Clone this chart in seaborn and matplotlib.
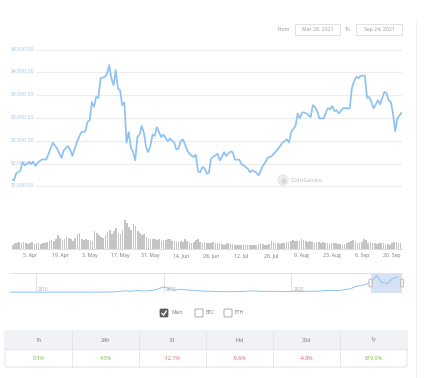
import numpy as np
import pandas as pd
import matplotlib
matplotlib.use("Agg")
import matplotlib.pyplot as plt
import matplotlib.patches as mpatches
import matplotlib.transforms as mtrans
import seaborn as sns

# ---------------- data ----------------
start_date = "2021-03-28"
end_date = "2021-09-24"

price_day = [0, 1, 2, 4, 5, 6, 8, 9, 10, 11, 12, 14, 16, 17, 19, 21, 23, 24, 26, 27,
             28, 30, 32, 34, 35, 36, 37, 38, 39, 40, 41, 43, 44, 45, 46, 47, 48, 49, 50, 51,
             52, 53, 54, 55, 56, 57, 58, 59, 60, 61, 62, 63, 64, 65, 66, 67, 68, 69, 70, 72,
             73, 75, 76, 77, 78, 79, 80, 81, 82, 84, 85, 86, 87, 88, 89, 90, 91, 92, 93, 95,
             96, 97, 98, 99, 101, 102, 103, 104, 105, 106, 108, 109, 110, 111, 113, 114, 116, 117, 118, 120,
             121, 123, 125, 127, 128, 129, 131, 132, 133, 134, 135, 136, 137, 138, 139, 140, 141, 142, 144, 145,
             146, 147, 148, 149, 150, 151, 153, 154, 156, 157, 158, 159, 160, 161, 162, 163, 164, 165, 166, 167,
             168, 169, 170, 171, 172, 173, 174, 175, 176, 177, 178, 180]
price_usd = [1650, 1630, 1775, 1850, 2030, 1960, 2030, 1995, 2045, 1945, 2020, 2090, 2090, 2215, 2460, 2325, 2120, 2290, 2385, 2305,
             2165, 2460, 2680, 2710, 2910, 2950, 3350, 3240, 3460, 3440, 3870, 3900, 3970, 4160, 3870, 3720, 4050, 3650, 3610, 3280,
             3340, 2460, 2690, 2360, 2250, 2070, 2580, 2635, 2825, 2680, 2360, 2250, 2385, 2635, 2605, 2800, 2690, 2580, 2635, 2490,
             2545, 2460, 2310, 2325, 2490, 2530, 2415, 2290, 2215, 2140, 2195, 1825, 1810, 1920, 1900, 1775, 1800, 2105, 2150, 2215,
             2070, 2140, 2250, 2165, 2265, 2250, 2090, 2080, 2090, 1995, 1920, 1885, 1810, 1850, 1800, 1740, 1960, 2020, 2120, 2165,
             2215, 2325, 2460, 2530, 2460, 2690, 2825, 3100, 2990, 3120, 3120, 3100, 3060, 3020, 3280, 3240, 3150, 2990, 2990, 3120,
             3220, 3190, 3260, 3150, 3170, 3100, 3220, 3210, 3210, 3650, 3800, 3900, 3870, 3925, 3925, 3930, 3440, 3460, 3350, 3210,
             3295, 3390, 3295, 3430, 3575, 3540, 3390, 3350, 3100, 2710, 2990, 3120]

# daily traded volume (billion USD), Mar 28 .. Sep 24
volume_bn = [10, 15, 16, 17, 15, 17, 16,
             12, 15, 17, 13, 14, 15, 13,
             14, 16, 18, 20, 22, 19, 24,
             35, 28, 22, 25, 30, 27, 24,
             20, 28, 38, 40, 25, 22, 24,
             23, 22, 20, 45, 40, 35, 30,
             28, 35, 42, 48, 38, 45, 52,
             40, 38, 48, 72, 65, 55, 48,
             62, 58, 45, 40, 35, 38, 30,
             26, 25, 24, 25, 22, 24, 20,
             22, 23, 26, 24, 21, 20, 18,
             17, 19, 18, 24, 20, 18, 16,
             17, 22, 24, 18, 16, 17, 15,
             16, 15, 18, 15, 14, 14, 12,
             11, 12, 14, 13, 12, 11, 10,
             9, 10, 12, 11, 10, 9, 10,
             9, 11, 13, 14, 12, 10, 11,
             13, 20, 18, 16, 14, 13, 15,
             16, 18, 17, 19, 22, 20, 21,
             20, 24, 22, 21, 18, 19, 17,
             16, 18, 17, 15, 17, 16, 14,
             13, 15, 16, 14, 13, 12, 11,
             12, 14, 18, 20, 22, 19, 16,
             15, 18, 25, 22, 16, 18, 15,
             14, 13, 15, 14, 16, 13, 12,
             11, 14, 18, 17, 15, 16]

tick_dates = ["2021-04-05", "2021-04-19", "2021-05-03", "2021-05-17", "2021-05-31", "2021-06-14",
              "2021-06-28", "2021-07-12", "2021-07-26", "2021-08-09", "2021-08-23", "2021-09-06",
              "2021-09-20"]
tick_labels = ["5. Apr", "19. Apr", "3. May", "17. May", "31. May", "14. Jun", "28. Jun",
               "12. Jul", "26. Jul", "9. Aug", "23. Aug", "6. Sep", "20. Sep"]
y_levels = [1500, 2000, 2500, 3000, 3500, 4000, 4500]

nav_month = ["2015-08", "2015-09", "2015-10", "2015-11", "2015-12",
             "2016-01", "2016-02", "2016-03", "2016-04", "2016-05", "2016-06", "2016-07", "2016-08",
             "2016-09", "2016-10", "2016-11", "2016-12",
             "2017-01", "2017-02", "2017-03", "2017-04", "2017-05", "2017-06", "2017-07", "2017-08",
             "2017-09", "2017-10", "2017-11", "2017-12",
             "2018-01", "2018-02", "2018-03", "2018-04", "2018-05", "2018-06", "2018-07", "2018-08",
             "2018-09", "2018-10", "2018-11", "2018-12",
             "2019-01", "2019-02", "2019-03", "2019-04", "2019-05", "2019-06", "2019-07", "2019-08",
             "2019-09", "2019-10", "2019-11", "2019-12",
             "2020-01", "2020-02", "2020-03", "2020-04", "2020-05", "2020-06", "2020-07", "2020-08",
             "2020-09", "2020-10", "2020-11", "2020-12",
             "2021-01", "2021-02", "2021-03", "2021-04", "2021-05", "2021-06", "2021-07", "2021-08",
             "2021-09"]
nav_price = [1, 1, 1, 1, 1,
             1, 6, 11, 8, 12, 14, 12, 11, 13, 11, 9, 8,
             10, 13, 50, 80, 230, 300, 200, 390, 300, 300, 450, 750,
             1250, 850, 400, 670, 580, 450, 430, 280, 230, 200, 110, 135,
             107, 136, 141, 160, 270, 290, 220, 170, 180, 180, 150, 130,
             180, 220, 135, 210, 230, 225, 345, 430, 360, 385, 610, 740,
             1300, 1600, 1800, 2500, 3900, 2300, 2000, 3200, 3600]
nav_years = ["2016", "2018", "2020"]

table_headers = ["1h", "24h", "7d", "14d", "30d", "1y"]
table_values = ["0.3%", "4.3%", "-12.1%", "-9.6%", "-4.8%", "819.0%"]

# ---------------- styling ----------------
sns.set_theme(style="white")
plt.rcParams["font.family"] = ["Open Sans", "DejaVu Sans"]

LINE = "#8ec2f3"
LABEL_BLUE = "#a3c3ec"
GRID = "#ececec"

W, H = 428, 378
fig = plt.figure(figsize=(W / 100, H / 100), dpi=100)
fig.patch.set_facecolor("white")


def rect(x0, y0, x1, y1):
    return [x0 / W, 1 - y1 / H, (x1 - x0) / W, (y1 - y0) / H]


t0 = pd.Timestamp(start_date)
t1 = pd.Timestamp(end_date)

# ---------------- price ----------------
ax = fig.add_axes(rect(11.7, 45, 401.7, 190))
df_price = pd.DataFrame({"date": [t0 + pd.Timedelta(days=d) for d in price_day],
                         "price": price_usd})
for v in y_levels:
    ax.axhline(v, xmin=0.062, xmax=1.0, color=GRID, lw=0.8, zorder=0)
sns.lineplot(data=df_price, x="date", y="price", ax=ax, color=LINE, lw=1.25, zorder=3)
ax.set_xlim(t0, t1)
ax.set_ylim(1420, 4600)
ax.axis("off")
blend = mtrans.blended_transform_factory(ax.transAxes, ax.transData)
for v in y_levels:
    ax.text(-0.002, v + 20, f"${v:,.2f}", transform=blend, ha="left", va="center",
            fontsize=3.7, color=LABEL_BLUE, zorder=2)

# ---------------- volume ----------------
axv = fig.add_axes(rect(11.7, 216, 401.7, 249))
vol_dates = pd.date_range(start_date, periods=len(volume_bn), freq="D")
axv.bar(vol_dates, volume_bn, width=0.75, color="#c4c4c4", linewidth=0)
axv.set_xlim(t0 - pd.Timedelta(hours=12), t1 + pd.Timedelta(hours=12))
axv.set_ylim(0, 82)
for s in ["top", "left", "right"]:
    axv.spines[s].set_visible(False)
axv.spines["bottom"].set_color("#d8d8d8")
axv.spines["bottom"].set_linewidth(0.6)
axv.set_yticks([])
axv.set_xticks([pd.Timestamp(d) for d in tick_dates])
axv.set_xticklabels(tick_labels)
axv.tick_params(axis="x", length=0, pad=3.2, labelsize=3.7, colors="#777777")
axv.set_xlabel("")
axv.set_ylabel("")

# ---------------- navigator ----------------
axn = fig.add_axes(rect(10, 273, 402, 293))
df_nav = pd.DataFrame({"date": pd.to_datetime(nav_month), "price": nav_price})
n0 = pd.Timestamp("2015-08-07")
sns.lineplot(data=df_nav, x="date", y="price", ax=axn, color=LINE, lw=0.7, zorder=3)
axn.set_xlim(n0, t1)
axn.set_ylim(-200, 4500)
axn.axvspan(t0, t1, color="#c9d7ef", alpha=0.75, lw=0, zorder=1)
for yr in nav_years:
    d = pd.Timestamp(f"{yr}-01-01")
    axn.axvline(d, color="#e3e3e3", lw=0.7, zorder=0)
    axn.text(d + pd.Timedelta(days=12), 700, yr, fontsize=3.3, color="#aaaaaa",
             ha="left", va="center")
axn.axis("off")

# ---------------- overlay (pixel coordinates) ----------------
ov = fig.add_axes([0, 0, 1, 1])
ov.set_xlim(0, W)
ov.set_ylim(H, 0)
ov.axis("off")

# navigator frame line and handles
ov.plot([10, 402], [273, 273], color="#e3e3e3", lw=0.7)
for hx in (370.5, 402.0):
    ov.add_patch(mpatches.FancyBboxPatch((hx - 1.6, 279), 3.2, 8,
                                         boxstyle="round,pad=0,rounding_size=0.8",
                                         fc="#f2f2f2", ec="#9a9a9a", lw=0.4, zorder=5))

# right separator
ov.plot([416, 416], [22, 378], color="#eeeeee", lw=0.8)

# date range inputs
ov.text(290, 29.5, "From", fontsize=3.7, color="#999999", ha="right", va="center")
ov.add_patch(mpatches.Rectangle((295, 24), 45, 11, fc="white", ec="#dddddd", lw=0.6))
ov.text(317.5, 29.5, "Mar 28, 2021", fontsize=3.7, color="#999999", ha="center", va="center")
ov.text(348, 29.5, "To", fontsize=3.7, color="#999999", ha="center", va="center")
ov.add_patch(mpatches.Rectangle((356, 24), 46, 11, fc="white", ec="#dddddd", lw=0.6))
ov.text(379, 29.5, "Sep 24, 2021", fontsize=3.7, color="#999999", ha="center", va="center")

# watermark
ov.add_patch(mpatches.Circle((283, 180), 5.2, fc="#eeeeee", ec="#e2e2e2", lw=0.5, zorder=1))
ov.add_patch(mpatches.Circle((284, 181), 2.6, fc="#d6d6d6", ec="none", zorder=1))
ov.text(291, 180.5, "CoinGecko", fontsize=4.6, color="#b5b5b5", ha="left", va="center")

# legend checkboxes
ov.add_patch(mpatches.FancyBboxPatch((160, 309), 8, 8, boxstyle="round,pad=0,rounding_size=1",
                                     fc="#606060", ec="#505050", lw=0.5))
ov.plot([161.8, 163.6, 166.4], [313.2, 315.2, 310.8], color="white", lw=0.9)
ov.text(171.5, 313, "Main", fontsize=3.6, color="#777777", ha="left", va="center")
for bx, lab in ((195, "BTC"), (224, "ETH")):
    ov.add_patch(mpatches.FancyBboxPatch((bx, 309), 8, 8, boxstyle="round,pad=0,rounding_size=1",
                                         fc="white", ec="#8a8a8a", lw=0.5))
    ov.text(bx + 10.5, 313, lab, fontsize=3.6, color="#777777", ha="left", va="center")

# performance table
tx0, tx1, ty0, ty1, tmid = 5, 407, 331, 367, 349
ov.add_patch(mpatches.FancyBboxPatch((tx0, ty0), tx1 - tx0, ty1 - ty0,
                                     boxstyle="round,pad=0,rounding_size=2",
                                     fc="white", ec="#e2e4e8", lw=0.7, zorder=1))
ov.add_patch(mpatches.Rectangle((tx0 + 0.5, ty0 + 0.5), tx1 - tx0 - 1, tmid - ty0 - 0.5,
                                fc="#f1f2f5", ec="none", zorder=1.5))
ov.plot([tx0, tx1], [tmid, tmid], color="#e2e4e8", lw=0.6, zorder=2)
cw = (tx1 - tx0) / len(table_headers)
for i, (hd, val) in enumerate(zip(table_headers, table_values)):
    cx = tx0 + cw * (i + 0.5)
    if i > 0:
        ov.plot([tx0 + cw * i] * 2, [ty0, ty1], color="#e2e4e8", lw=0.6, zorder=2)
    ov.text(cx, (ty0 + tmid) / 2, hd, fontsize=3.9, color="#777777", ha="center", va="center", zorder=3)
    col = "#e0635a" if val.startswith("-") else "#78bd45"
    ov.text(cx, (tmid + ty1) / 2, val, fontsize=3.9, color=col, ha="center", va="center", zorder=3)

fig.savefig("out.png", dpi=100, facecolor="white")
